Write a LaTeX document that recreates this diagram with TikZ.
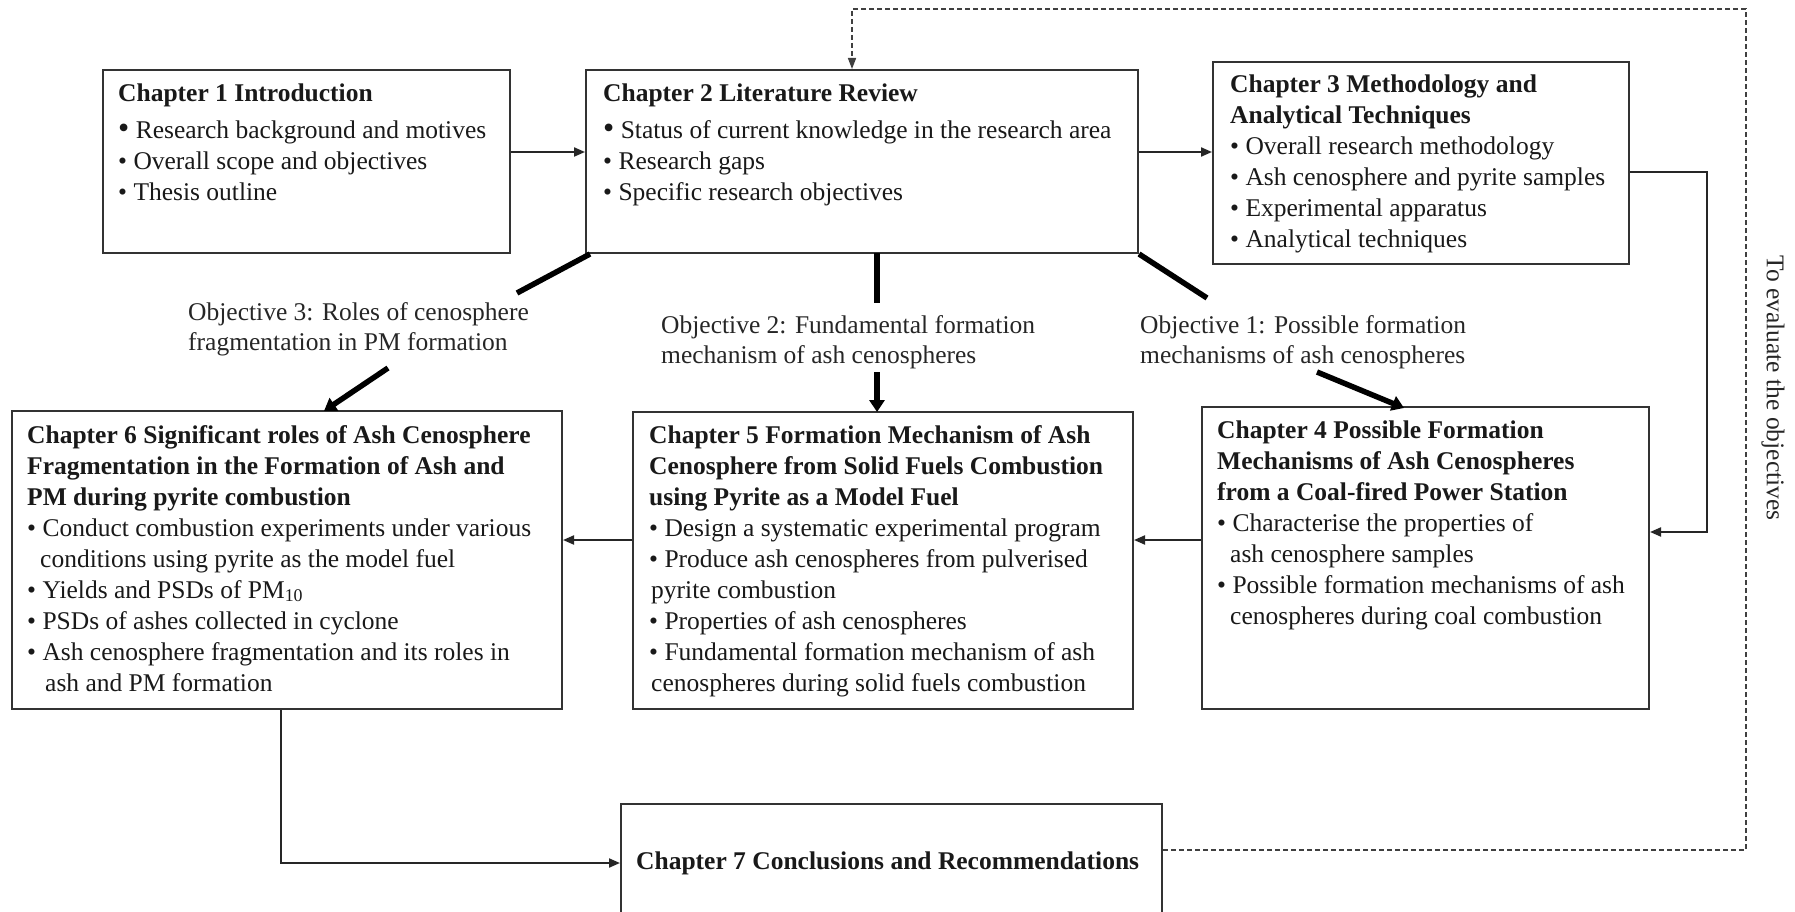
\documentclass[tikz,border=0pt]{standalone}
\usepackage{fontspec}
\setmainfont{Liberation Serif}
\usetikzlibrary{arrows.meta}
\newcommand\fl{\rule{0pt}{20pt}}
\newcommand\bfnt{\fontsize{25.5}{31}\selectfont}
\newcommand\bb{\textbullet\ }
\newcommand\bbig{{\fontsize{32}{31}\selectfont\textbullet}\ }
\begin{document}
\begin{tikzpicture}[x=1pt,y=-1pt,
  box/.style={draw=black!80, line width=2pt, inner sep=0pt, anchor=north west, fill=white},
  txt/.style={font=\bfnt, align=left, inner sep=0pt, anchor=north west, text=black!90},
  lbl/.style={font=\fontsize{25.5}{30}\selectfont, align=left, inner sep=0pt, anchor=north west, text=black!85},
  conn/.style={draw=black!85, line width=2pt, -{Triangle[length=11pt,width=9pt]}},
  objline/.style={draw=black, line width=5.5pt},
  objarrow/.style={objline, -{Triangle[length=12pt,width=15pt]}},
  dashline/.style={draw=black!75, line width=1.6pt, dash pattern=on 5pt off 3pt}
]
\clip (0,0) rectangle (1795,912);
\fill[white] (0,0) rectangle (1795,912);

% boxes
\node[box, minimum width=407pt, minimum height=183pt] (c1) at (102,69) {};
\node[box, minimum width=552pt, minimum height=183pt] (c2) at (585,69) {};
\node[box, minimum width=416pt, minimum height=202pt] (c3) at (1212,61) {};
\node[box, minimum width=550pt, minimum height=298pt] (c6) at (11,410) {};
\node[box, minimum width=500pt, minimum height=297pt] (c5) at (632,411) {};
\node[box, minimum width=447pt, minimum height=302pt] (c4) at (1201,406) {};
\node[box, minimum width=541pt, minimum height=200pt] (c7) at (620,803) {};

% texts
\node[txt] (t1) at (118,81) {\fl\textbf{Chapter 1 Introduction}\\[6pt]
\bbig Research background and motives\\
\bb Overall scope and objectives\\
\bb Thesis outline};

\node[txt] (t2) at (603,81) {\fl\textbf{Chapter 2 Literature Review}\\[6pt]
\bbig Status of current knowledge in the research area\\
\bb Research gaps\\
\bb Specific research objectives};

\node[txt] (t3) at (1230,72) {\fl\textbf{Chapter 3 Methodology and}\\
\textbf{Analytical Techniques}\\
\bb Overall research methodology\\
\bb Ash cenosphere and pyrite samples\\
\bb Experimental apparatus\\
\bb Analytical techniques};

\node[txt] (t6) at (27,423) {\fl\textbf{Chapter 6 Significant roles of Ash Cenosphere}\\
\textbf{Fragmentation in the Formation of Ash and}\\
\textbf{PM during pyrite combustion}\\
\bb Conduct combustion experiments under various\\
\hspace*{13pt}conditions using pyrite as the model fuel\\
\bb Yields and PSDs of PM\textsubscript{10}\\
\bb PSDs of ashes collected in cyclone\\
\bb Ash cenosphere fragmentation and its roles in\\
\hspace*{18pt}ash and PM formation};

\node[txt] (t5) at (649,423) {\fl\textbf{Chapter 5 Formation Mechanism of Ash}\\
\textbf{Cenosphere from Solid Fuels Combustion}\\
\textbf{using Pyrite as a Model Fuel}\\
\bb Design a systematic experimental program\\
\bb Produce ash cenospheres from pulverised\\
\hspace*{2pt}pyrite combustion\\
\bb Properties of ash cenospheres\\
\bb Fundamental formation mechanism of ash\\
\hspace*{2pt}cenospheres during solid fuels combustion};

\node[txt] (t4) at (1217,418) {\fl\textbf{Chapter 4 Possible Formation}\\
\textbf{Mechanisms of Ash Cenospheres}\\
\textbf{from a Coal-fired Power Station}\\
\bb Characterise the properties of\\
\hspace*{13pt}ash cenosphere samples\\
\bb Possible formation mechanisms of ash\\
\hspace*{13pt}cenospheres during coal combustion};

\node[txt] (t7) at (636,849) {\fl\textbf{Chapter 7 Conclusions and Recommendations}};

% objective labels
\node[lbl] (o3) at (188,300) {\fl Objective 3: Roles of cenosphere\\fragmentation in PM formation};
\node[lbl] (o2) at (661,313) {\fl Objective 2: Fundamental formation\\mechanism of ash cenospheres};
\node[lbl] (o1) at (1140,313) {\fl Objective 1: Possible formation\\mechanisms of ash cenospheres};

\node[font=\fontsize{25.5}{30}\selectfont, rotate=-90, text=black!85] (ev) at (1773,388) {To evaluate the objectives};

% coordinates for connectors
\coordinate (o3a) at (517,293);
\coordinate (o3b) at (388,368);
\coordinate (o3e) at (324,411);
\coordinate (o2s) at (877,253);
\coordinate (o2a) at (877,303);
\coordinate (o2b) at (877,372);
\coordinate (o2e) at (877,412);
\coordinate (o1a) at (1207,298);
\coordinate (o1b) at (1317,372);
\coordinate (o1e) at (1404,408);
\coordinate (k1) at (1707,172);
\coordinate (k2) at (1707,532);
\coordinate (k3) at (281,863);
\coordinate (d1) at (1746,850);
\coordinate (d2) at (1746,9);
\coordinate (d3) at (852,9);

% objective connectors
\draw[objline] ([xshift=5pt]c2.south west) -- (o3a);
\draw[objarrow] (o3b) -- (o3e);
\draw[objline] (o2s) -- (o2a);
\draw[objarrow] (o2b) -- (o2e);
\draw[objline] (c2.south east) -- (o1a);
\draw[objarrow] (o1b) -- (o1e);

% chapter connectors
\draw[conn] (c1.east |- 0,152) -- (c2.west |- 0,152);
\draw[conn] (c2.east |- 0,152) -- (c3.west |- 0,152);
\draw[conn] (c3.east |- k1) -- (k1) -- (k2) -- (c4.east |- k2);
\draw[conn] (c4.west |- 0,540) -- (c5.east |- 0,540);
\draw[conn] (c5.west |- 0,540) -- (c6.east |- 0,540);
\draw[conn] (c6.south -| k3) -- (k3) -- (c7.west |- k3);
\draw[dashline, -{Triangle[length=11pt,width=8pt]}] (c7.east |- d1) -- (d1) -- (d2) -- (d3) -- (c2.north -| d3);
\end{tikzpicture}
\end{document}
